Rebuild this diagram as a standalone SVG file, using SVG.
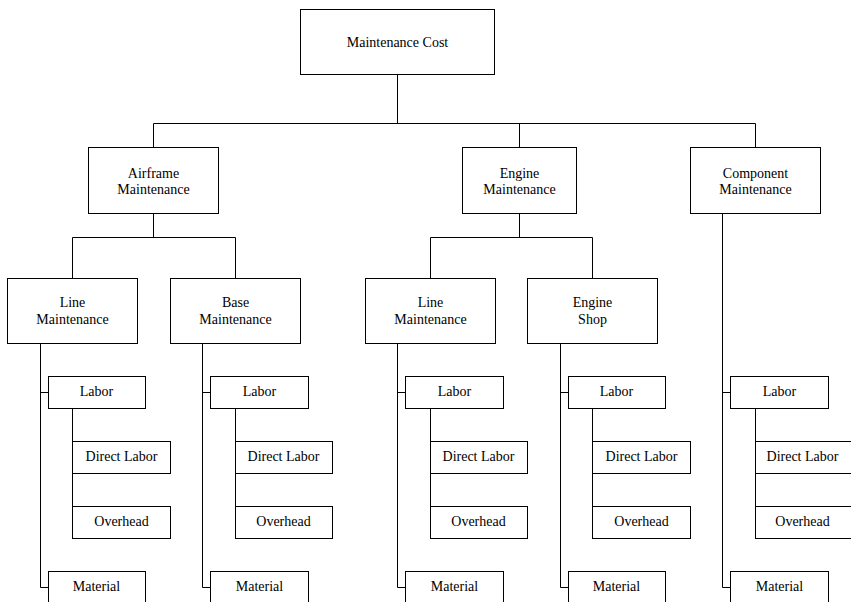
<svg xmlns="http://www.w3.org/2000/svg" width="851" height="602" viewBox="0 0 851 602">
<style>
.b{fill:#fff;stroke:#000;stroke-width:1}
.c{fill:none;stroke:#000;stroke-width:1}
text{font-size:14px;fill:#000;text-anchor:middle}
</style>
<rect width="851" height="602" fill="#fff"/>
<g transform="translate(0.5,0.5)" font-family="'Liberation Serif', Tinos, 'Times New Roman', 'DejaVu Serif', serif">
<g id="connectors">
<path class="c" d="M397 74V123M153 123H755M153 123V147M519 123V147M755 123V147"/>
<path class="c" d="M153 213V237M72 237H235M72 237V278M235 237V278"/>
<path class="c" d="M519 213V237M430 237H592M430 237V278M592 237V278"/>
<path class="c" d="M40 343V587H48M40 392H48M72 408V538"/>
<path class="c" d="M202 343V587H210M202 392H210M235 408V538"/>
<path class="c" d="M397 343V587H405M397 392H405M430 408V538"/>
<path class="c" d="M560 343V587H568M560 392H568M592 408V538"/>
<path class="c" d="M722 213V587H730M722 392H730M755 408V538"/>
</g>
<g id="root"><rect class="b" x="300" y="9" width="194" height="65"/><text x="397" y="46">Maintenance Cost</text></g>
<g id="airframe"><rect class="b" x="88" y="147" width="130" height="66"/><text x="153" y="177">Airframe</text><text x="153" y="193">Maintenance</text></g>
<g id="engine"><rect class="b" x="462" y="147" width="114" height="66"/><text x="519" y="177">Engine</text><text x="519" y="193">Maintenance</text></g>
<g id="component"><rect class="b" x="690" y="147" width="130" height="66"/><text x="755" y="177">Component</text><text x="755" y="193">Maintenance</text></g>
<g id="af-line"><rect class="b" x="7" y="278" width="130" height="65"/><text x="72" y="306">Line</text><text x="72" y="323">Maintenance</text></g>
<g id="af-base"><rect class="b" x="170" y="278" width="130" height="65"/><text x="235" y="306">Base</text><text x="235" y="323">Maintenance</text></g>
<g id="en-line"><rect class="b" x="365" y="278" width="130" height="65"/><text x="430" y="306">Line</text><text x="430" y="323">Maintenance</text></g>
<g id="en-shop"><rect class="b" x="527" y="278" width="130" height="65"/><text x="592" y="306">Engine</text><text x="592" y="323">Shop</text></g>
<g id="a-labor"><rect class="b" x="48" y="376" width="97" height="32"/><text x="96" y="395">Labor</text></g>
<g id="a-direct"><rect class="b" x="72" y="441" width="98" height="32"/><text x="121" y="460">Direct Labor</text></g>
<g id="a-overhead"><rect class="b" x="72" y="506" width="98" height="32"/><text x="121" y="525">Overhead</text></g>
<g id="a-material"><rect class="b" x="48" y="571" width="97" height="40"/><text x="96" y="590">Material</text></g>
<g id="b-labor"><rect class="b" x="210" y="376" width="98" height="32"/><text x="259" y="395">Labor</text></g>
<g id="b-direct"><rect class="b" x="235" y="441" width="97" height="32"/><text x="283" y="460">Direct Labor</text></g>
<g id="b-overhead"><rect class="b" x="235" y="506" width="97" height="32"/><text x="283" y="525">Overhead</text></g>
<g id="b-material"><rect class="b" x="210" y="571" width="98" height="40"/><text x="259" y="590">Material</text></g>
<g id="c-labor"><rect class="b" x="405" y="376" width="98" height="32"/><text x="454" y="395">Labor</text></g>
<g id="c-direct"><rect class="b" x="430" y="441" width="97" height="32"/><text x="478" y="460">Direct Labor</text></g>
<g id="c-overhead"><rect class="b" x="430" y="506" width="97" height="32"/><text x="478" y="525">Overhead</text></g>
<g id="c-material"><rect class="b" x="405" y="571" width="98" height="40"/><text x="454" y="590">Material</text></g>
<g id="d-labor"><rect class="b" x="568" y="376" width="97" height="32"/><text x="616" y="395">Labor</text></g>
<g id="d-direct"><rect class="b" x="592" y="441" width="98" height="32"/><text x="641" y="460">Direct Labor</text></g>
<g id="d-overhead"><rect class="b" x="592" y="506" width="98" height="32"/><text x="641" y="525">Overhead</text></g>
<g id="d-material"><rect class="b" x="568" y="571" width="97" height="40"/><text x="616" y="590">Material</text></g>
<g id="e-labor"><rect class="b" x="730" y="376" width="98" height="32"/><text x="779" y="395">Labor</text></g>
<g id="e-direct"><rect class="b" x="755" y="441" width="97" height="32"/><text x="802" y="460">Direct Labor</text></g>
<g id="e-overhead"><rect class="b" x="755" y="506" width="97" height="32"/><text x="802" y="525">Overhead</text></g>
<g id="e-material"><rect class="b" x="730" y="571" width="98" height="40"/><text x="779" y="590">Material</text></g>
</g>
</svg>
